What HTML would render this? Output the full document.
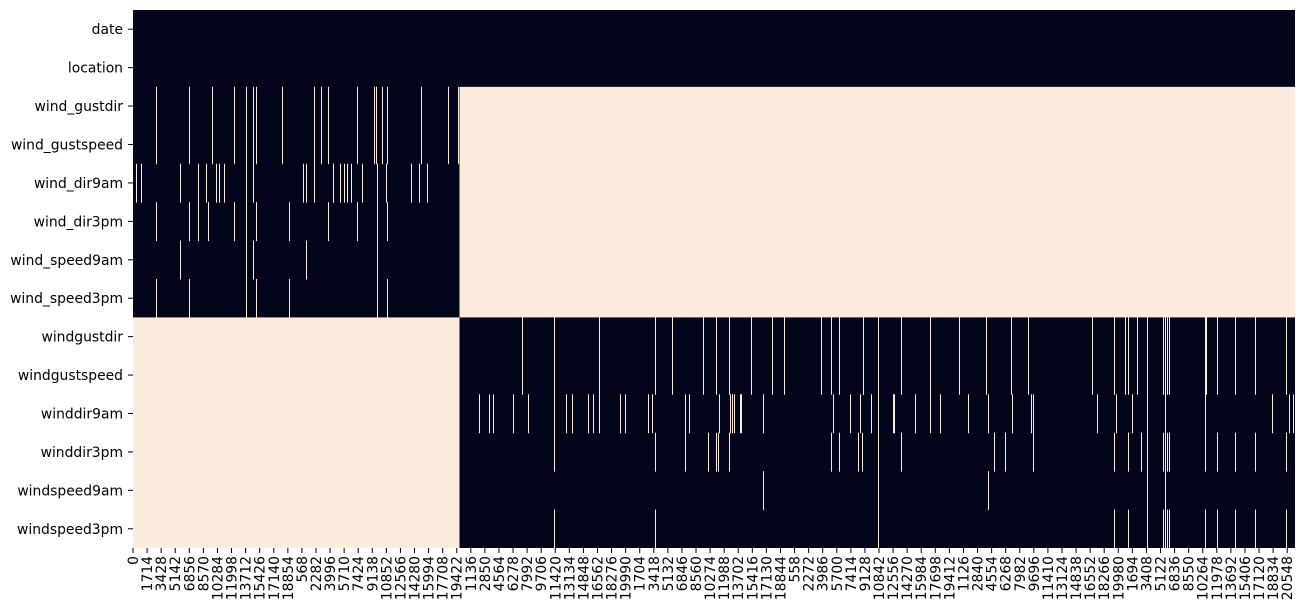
<!DOCTYPE html>
<html><head><meta charset="utf-8"><style>
html,body{margin:0;padding:0;background:#fff;}
svg{display:block;font-family:"DejaVu Sans","Liberation Sans",sans-serif;}
</style></head><body>
<svg id="chart" width="1305" height="613" viewBox="0 0 1305 613" xmlns="http://www.w3.org/2000/svg"></svg>
<script>
const variables = ["date","location","wind_gustdir","wind_gustspeed","wind_dir9am","wind_dir3pm","wind_speed9am","wind_speed3pm","windgustdir","windgustspeed","winddir9am","winddir3pm","windspeed9am","windspeed3pm"];
const totalRows = 141500;
const splitIndex = 39760;
const leftVars = ["wind_gustdir","wind_gustspeed","wind_dir9am","wind_dir3pm","wind_speed9am","wind_speed3pm"];
const rightVars = ["windgustdir","windgustspeed","winddir9am","winddir3pm","windspeed9am","windspeed3pm"];
const tickStep = 1714;
const tickLabels = [0,1714,3428,5142,6856,8570,10284,11998,13712,15426,17140,18854,568,2282,3996,5710,7424,9138,10852,12566,14280,15994,17708,19422,1136,2850,4564,6278,7992,9706,11420,13134,14848,16562,18276,19990,1704,3418,5132,6846,8560,10274,11988,13702,15416,17130,18844,558,2272,3986,5700,7414,9128,10842,12556,14270,15984,17698,19412,1126,2840,4554,6268,7982,9696,11410,13124,14838,16552,18266,19980,1694,3408,5122,6836,8550,10264,11978,13692,15406,17120,18834,20548];
const missGust = [2837,6856,9656,12262,13723,13800,14649,15014,18180,22077,22929,23782,27313,29310,29554,29600,30357,30893,35033,38394,39612];
const missDir9 = [402,1011,5760,7952,8853,10143,10509,11118,13723,13800,14649,20737,21103,22077,24318,24400,25243,25730,26095,26583,27922,29675,30772,33816,34863,35837];
const missDir3 = [2837,6856,7952,9169,12262,13723,13800,15014,19033,23782,27313,29675,30893];
const missSpd9 = [5760,13723,13800,14649,21103,29675];
const missSpd3 = [2837,6856,13723,13800,15014,19033,29675,30893];
const missRGust = [47405,51302,56781,63600,65670,69445,71029,72613,75290,77848,79309,83742,85032,85933,88856,88950,90755,93556,97087,100619,103906,106951,109021,116814,119420,120833,121198,122294,123512,125461,125704,125948,126192,130574,130680,132035,134227,136662,140439];
const missRDir9 = [42169,43387,43874,46309,48136,51302,52763,53494,55442,56051,56781,59339,59948,62748,63236,67254,67741,71394,72733,72977,73220,73878,73990,76752,85275,87345,88563,89903,90755,92508,92630,95261,97087,98305,101715,104150,107072,109387,109630,117423,119737,121685,123512,125704,130574,138735,140805,141292];
const missRDir3 = [51302,63600,67254,70054,71029,71272,72613,85032,85933,88320,88807,90755,93556,104881,106220,109630,119420,121198,122782,123512,125461,125704,125948,126192,130574,132035,134227,136662,140439];
const missRSpd9 = [76752,90755,104150,123512,125704];
const missRSpd3 = [51302,63600,90755,119420,121198,123512,125461,125704,125948,126192,130574,132035,134227,136662,140439];

const missing = {
  "wind_gustdir": missGust, "wind_gustspeed": missGust, "wind_dir9am": missDir9, "wind_dir3pm": missDir3,
  "wind_speed9am": missSpd9, "wind_speed3pm": missSpd3,
  "windgustdir": missRGust, "windgustspeed": missRGust, "winddir9am": missRDir9, "winddir3pm": missRDir3,
  "windspeed9am": missRSpd9, "windspeed3pm": missRSpd3
};

const NS = "http://www.w3.org/2000/svg";
const svg = document.getElementById("chart");
const plotL = 133, plotR = 1295, plotT = 10, plotB = 548;
const DARK = "#03051a", LIGHT = "#faebdd";
const xScale = i => plotL + i / totalRows * (plotR - plotL);
const rowH = (plotB - plotT) / variables.length;
const yScale = r => plotT + r * rowH;

function el(tag, attrs) {
  const e = document.createElementNS(NS, tag);
  for (const k in attrs) e.setAttribute(k, attrs[k]);
  svg.appendChild(e);
  return e;
}

const bg = el("rect", {x: plotL, y: plotT, width: plotR - plotL, height: plotB - plotT, fill: DARK});



// merged missing blocks (contiguous rows)
const lRows = leftVars.map(v => variables.indexOf(v));
const rRows = rightVars.map(v => variables.indexOf(v));
const lTop = yScale(Math.min(...lRows)), lBot = yScale(Math.max(...lRows) + 1);
const rTop = yScale(Math.min(...rRows)), rBot = yScale(Math.max(...rRows) + 1);
const blockL = el("rect", {x: xScale(splitIndex), y: lTop, width: plotR - xScale(splitIndex), height: lBot - lTop, fill: LIGHT});


const blockR = el("rect", {x: plotL, y: rTop, width: xScale(splitIndex) - plotL, height: rBot - rTop, fill: LIGHT});



variables.forEach((v, r) => {
  const y = yScale(r);
  (missing[v] || []).forEach(idx => {
    const c = el("rect", {x: Math.round(xScale(idx)), y: y, width: 1, height: rowH + 0.5, fill: LIGHT});
    
    
  });
  const cy = y + rowH / 2;
  const t = el("line", {x1: plotL - 5, x2: plotL, y1: cy, y2: cy, stroke: "#000", "stroke-width": 1});
  
  
  const lab = el("text", {x: plotL - 10, y: cy + 5, "text-anchor": "end", "font-size": "13.9px", fill: "#000"});
  lab.textContent = v;
  
  
});

tickLabels.forEach((lbl, i) => {
  const x = xScale(i * tickStep + 0.5);
  const t = el("line", {x1: x, x2: x, y1: plotB, y2: plotB + 5, stroke: "#000", "stroke-width": 1});
  
  
  const tx = el("text", {x: 0, y: 0, "text-anchor": "end", "font-size": "13.9px", fill: "#000",
    transform: "translate(" + (x + 5) + "," + (plotB + 8) + ") rotate(-90)"});
  tx.textContent = lbl;
  
  
});
</script>
</body></html>
